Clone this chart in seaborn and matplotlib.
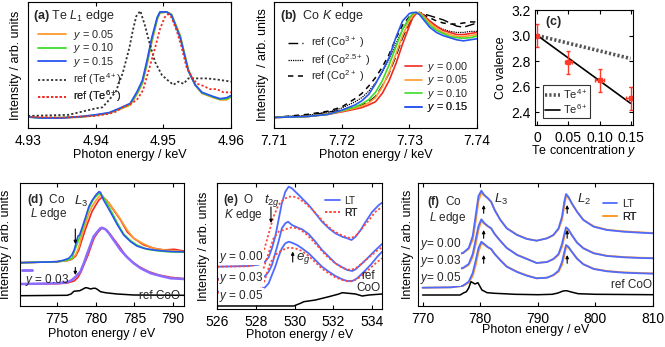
import numpy as np
import pandas as pd
import matplotlib
matplotlib.use("Agg")
import matplotlib.pyplot as plt
from matplotlib.lines import Line2D
import seaborn as sns

# ---------------- data ----------------
# (a) Te L1 edge, normalised
a_e = [4.930, 4.932, 4.935, 4.938, 4.940, 4.942, 4.9435, 4.9451, 4.9461, 4.9469, 4.9476, 4.9483,
       4.9491, 4.9495, 4.9505, 4.9512, 4.9525, 4.9537, 4.9547, 4.9557, 4.9574, 4.9584, 4.9594, 4.960]
a_y005 = [0.01, 0.005, 0.0, 0.01, 0.025, 0.045, 0.08, 0.12, 0.22, 0.32, 0.5, 0.71, 0.92, 0.98,
          0.99, 0.97, 0.77, 0.45, 0.31, 0.23, 0.19, 0.17, 0.17, 0.2]
a_y010 = [0.01, 0.0, 0.005, 0.012, 0.028, 0.048, 0.085, 0.13, 0.23, 0.33, 0.52, 0.73, 0.93, 0.985,
          0.99, 0.965, 0.76, 0.445, 0.31, 0.235, 0.195, 0.175, 0.18, 0.2]
a_y015 = [0.01, 0.0, 0.0, 0.015, 0.03, 0.05, 0.09, 0.136, 0.244, 0.35, 0.54, 0.75, 0.94, 0.99,
          0.99, 0.96, 0.75, 0.44, 0.31, 0.24, 0.2, 0.18, 0.19, 0.21]
a_te4_e = [4.930, 4.933, 4.936, 4.938, 4.940, 4.941, 4.942, 4.943, 4.944, 4.945, 4.9455, 4.946, 4.9466,
           4.9473, 4.948, 4.9488, 4.9498, 4.9507, 4.9515, 4.9522, 4.953, 4.9537, 4.955, 4.9564, 4.9579, 4.960]
a_te4 = [0.02, 0.025, 0.03, 0.06, 0.09, 0.1, 0.17, 0.25, 0.42, 0.66, 0.82, 0.95, 1.0, 0.86, 0.69,
         0.52, 0.4, 0.35, 0.31, 0.34, 0.32, 0.37, 0.37, 0.37, 0.36, 0.34]
a_te6_e = [4.930, 4.935, 4.940, 4.942, 4.943, 4.944, 4.9451, 4.9461, 4.947, 4.948, 4.9488, 4.9495, 4.9502,
           4.9507, 4.9512, 4.952, 4.9527, 4.9534, 4.9542, 4.955, 4.9559, 4.9569, 4.9579, 4.9589, 4.960]
a_te6 = [0.01, 0.005, 0.02, 0.04, 0.06, 0.1, 0.13, 0.17, 0.26, 0.48, 0.66, 0.83, 0.94, 0.97, 0.94,
         0.81, 0.66, 0.48, 0.38, 0.32, 0.3, 0.27, 0.27, 0.24, 0.24]

# (b) Co K edge, normalised
b_e = [7.710, 7.715, 7.718, 7.720, 7.722, 7.723, 7.724, 7.725, 7.726, 7.727, 7.728, 7.729, 7.730,
       7.7305, 7.731, 7.7315, 7.732, 7.733, 7.734, 7.735, 7.736, 7.737, 7.738, 7.739, 7.740]
b_y000 = [0, 0.01, 0.03, 0.054, 0.08, 0.095, 0.12, 0.15, 0.23, 0.35, 0.51, 0.70, 0.87, 0.95, 0.99,
          1.0, 0.98, 0.92, 0.87, 0.83, 0.81, 0.79, 0.79, 0.8, 0.81]
b_y005 = [0, 0.01, 0.035, 0.06, 0.09, 0.11, 0.14, 0.19, 0.29, 0.43, 0.6, 0.78, 0.92, 0.97, 1.0,
          1.0, 0.97, 0.9, 0.85, 0.81, 0.79, 0.77, 0.77, 0.78, 0.79]
b_y010 = [0, 0.01, 0.03, 0.065, 0.1, 0.13, 0.17, 0.24, 0.35, 0.5, 0.67, 0.84, 0.95, 0.99, 1.0,
          0.99, 0.96, 0.88, 0.83, 0.8, 0.77, 0.76, 0.755, 0.76, 0.775]
b_y015 = [0, 0.01, 0.03, 0.07, 0.12, 0.16, 0.22, 0.32, 0.44, 0.57, 0.76, 0.92, 0.99, 1.0, 1.0,
          0.98, 0.94, 0.86, 0.81, 0.78, 0.76, 0.74, 0.73, 0.74, 0.75]
b_co3 = [0, 0.02, 0.05, 0.07, 0.1, 0.12, 0.15, 0.2, 0.3, 0.42, 0.58, 0.76, 0.9, 0.96, 0.99, 1.0,
         0.99, 0.97, 0.95, 0.93, 0.9, 0.87, 0.86, 0.88, 0.9]
b_co25 = [0, 0.02, 0.05, 0.09, 0.15, 0.19, 0.25, 0.33, 0.43, 0.55, 0.7, 0.84, 0.94, 0.98, 1.0,
          0.99, 0.97, 0.92, 0.87, 0.84, 0.82, 0.81, 0.81, 0.82, 0.82]
b_co2 = [0, 0.03, 0.06, 0.1, 0.18, 0.23, 0.3, 0.38, 0.48, 0.6, 0.75, 0.88, 0.96, 0.99, 1.0, 0.99,
         0.98, 0.95, 0.92, 0.9, 0.89, 0.89, 0.9, 0.91, 0.91]

# (c) Co valence
c_y = [0.0, 0.05, 0.10, 0.15]
c_val = [3.0, 2.79, 2.65, 2.51]
c_verr = [0.09, 0.09, 0.09, 0.09]
c_herr = [0.0, 0.005, 0.008, 0.008]
c_line_y = [0.0, 0.15]
c_te4 = [3.0, 2.82]
c_te6 = [3.0, 2.47]

# (d) Co L edge (stacked, arb. units)
d_blue_e = [770.3, 775.0, 775.9, 776.5, 776.9, 777.2, 777.7, 777.9, 778.2, 778.7, 779.1, 779.5, 780.0,
            780.4, 780.6, 781.0, 781.5, 782.1, 782.8, 783.6, 784.5, 785.3, 786.2, 787.5, 788.8, 790.1, 791.4]
d_blue = [43.3, 44.3, 46, 47.7, 51, 56, 70, 71, 77.7, 89.3, 99.3, 105.3, 111, 114.3, 113.7, 106, 99.3,
          91, 81, 71, 64.3, 60, 57.7, 56, 55, 54.3, 54.3]
d_red_e = [770.3, 775.0, 776.3, 776.9, 777.4, 777.8, 778.2, 778.7, 779.1, 779.5, 780.0, 780.4, 780.8,
           781.25, 781.7, 782.3, 783.2, 784.05, 784.9, 786.2, 787.5, 788.8, 790.1, 791.4]
d_red = [43.3, 44.3, 45.3, 46.7, 50, 56, 66, 77.7, 86, 94.3, 101, 106, 108.7, 106.7, 102.7, 96, 86,
         74.3, 67.7, 61, 57.7, 56, 56.7, 55]
d_orange_e = [770.3, 775.0, 776.3, 776.9, 777.4, 777.8, 778.2, 778.7, 779.1, 779.5, 780.0, 780.4, 780.7,
              781.1, 781.7, 782.3, 783.2, 784.05, 784.9, 786.2, 787.5, 788.8, 790.1, 791.4]
d_orange = [43.3, 44.3, 45.5, 47, 51.3, 58.7, 71, 82.7, 92.7, 99.3, 105.3, 109.3, 111, 107.7, 102.7,
            96.7, 86.7, 76, 67.7, 62, 57.7, 56, 55.3, 54.3]
d_green_e = [770.3, 775.0, 776.3, 776.9, 777.2, 777.7, 778.0, 778.45, 778.9, 779.3, 779.7, 780.2, 780.5,
             780.95, 781.5, 782.1, 782.8, 783.6, 784.5, 785.3, 786.6, 787.9, 789.2, 791.4]
d_green = [43.3, 44.3, 45.8, 47.5, 54.3, 64.3, 71, 81, 93.3, 101, 106.7, 111, 112.7, 109.3, 102, 93.3,
           82.7, 72, 65.3, 61, 56.7, 55.3, 54.3, 53.7]
d_y003_e = [770.3, 775.0, 776.3, 776.9, 777.4, 777.7, 778.0, 778.45, 778.9, 779.3, 779.7, 780.2, 780.6,
            780.8, 781.25, 781.7, 782.3, 783.2, 784.05, 784.9, 785.8, 787.1, 788.4, 789.65, 791.4]
d_y003 = [22, 22.7, 23.7, 26, 29.3, 32, 34.3, 42.7, 52.7, 61, 69.3, 74.3, 77.7, 78.3, 76.7, 72.7, 66,
          56, 48.7, 42.7, 37.7, 32.7, 30, 27.7, 27]
d_y000_e = [770.3, 775.0, 776.3, 777.2, 777.7, 778.1, 778.5, 779.0, 779.4, 779.8, 780.3, 780.7, 781.0,
            781.5, 782.1, 783.0, 783.8, 784.7, 785.6, 786.85, 788.15, 789.65, 791.4]
d_y000 = [22, 22.3, 23, 25, 28.7, 34.3, 42, 51, 60, 68.3, 74, 77.3, 77.7, 75.3, 69.3, 60, 51, 44.3,
          39.3, 34.3, 31, 28.7, 27.3]
d_coo_e = [770.3, 776.3, 776.8, 777.16, 777.5, 777.93, 778.36, 778.66, 778.97, 779.3, 779.66, 779.96,
           780.26, 780.6, 781.25, 781.9, 782.76, 784.9, 791.4]
d_coo = [10.3, 10.7, 12, 14.7, 15, 15.3, 17, 18.3, 18, 17, 17.7, 17.7, 16.3, 14.3, 13.3, 12.7, 12, 11, 10.7]

# (e) O K edge (stacked, arb. units)
e_lt0_e = [526.0, 527.6, 528.14, 528.48, 528.66, 528.83, 529.0, 529.17, 529.34, 529.52, 529.69, 529.86,
           530.12, 530.38, 530.72, 531.07, 531.41, 531.76, 532.1, 532.45, 532.71, 532.93, 533.14, 533.4,
           533.66, 534.0, 534.34, 534.5]
e_lt0 = [39.3, 40, 41.3, 44.3, 48.7, 57.7, 69.3, 86, 102.7, 114.3, 119.3, 117.7, 112.7, 107.7, 101, 92.7,
         84.3, 77.7, 72.7, 69.3, 67.7, 66, 69.3, 76, 84.3, 94.3, 101, 103.3]
e_rt0_e = [526.0, 527.6, 527.97, 528.22, 528.4, 528.57, 528.74, 528.91, 529.17, 529.43, 529.69, 529.95,
           530.2, 530.55, 530.9, 531.24, 531.59, 531.93, 532.28, 532.62, 532.88, 533.14, 533.48, 533.83,
           534.17, 534.5]
e_rt0 = [39.3, 39.7, 41, 46, 54.3, 66, 77.7, 89.3, 101, 106.7, 109.3, 109.3, 107.7, 102.7, 96.7, 89.3,
         82, 76, 72, 69.3, 67.7, 70, 77.7, 86, 94.3, 99.3]
e_lt3_e = [526.0, 527.6, 528.14, 528.48, 528.66, 528.83, 529.0, 529.17, 529.34, 529.52, 529.66, 529.86,
           530.12, 530.38, 530.72, 531.07, 531.41, 531.76, 532.1, 532.45, 532.71, 532.97, 533.14, 533.48,
           533.83, 534.17, 534.5]
e_lt3 = [27, 27, 27.7, 30, 34.3, 41, 52.7, 64.3, 77.7, 82.7, 84.3, 81, 78.7, 76.7, 72, 64.3, 56, 49.3,
         42.7, 38.7, 36, 35, 36.7, 42.7, 49.3, 56, 62]
e_rt3_e = [526.0, 527.6, 527.97, 528.22, 528.4, 528.57, 528.74, 528.91, 529.17, 529.52, 529.86, 530.2,
           530.55, 530.9, 531.24, 531.59, 531.93, 532.28, 532.62, 532.88, 533.14, 533.48, 533.83, 534.17, 534.5]
e_rt3 = [26, 26.3, 27.7, 30, 37.7, 47.7, 57.7, 67.7, 74.3, 76.7, 78.7, 77.3, 72.7, 66, 58.7, 51, 45.3,
         40, 37, 36, 37.7, 42.7, 48.7, 54.3, 58.7]
e_lt5_e = [526.0, 527.6, 528.14, 528.48, 528.66, 528.83, 529.0, 529.17, 529.34, 529.52, 529.69, 529.86,
           530.12, 530.38, 530.72, 531.07, 531.41, 531.76, 532.1, 532.45, 532.71, 532.97, 533.22, 533.57,
           533.91, 534.26, 534.5]
e_lt5 = [14.3, 15.3, 16, 18.7, 22.7, 31, 39.3, 49.3, 57.7, 62.7, 64.3, 63.3, 61, 57.7, 52.7, 46, 39.3,
         34.3, 30, 26.7, 25, 25, 27.7, 34.3, 41, 49.3, 54.3]
e_rt5_e = [526.0, 527.6, 528.05, 528.22, 528.4, 528.57, 528.74, 529.0, 529.34, 529.69, 530.03, 530.38,
           530.72, 531.07, 531.41, 531.76, 532.1, 532.45, 532.79, 533.05, 533.4, 533.83, 534.17, 534.5]
e_rt5 = [13.3, 13.7, 14.3, 16.7, 22.7, 32.7, 42.7, 51, 56, 58.3, 57.7, 55, 50, 43.7, 37.3, 32.7, 28.7,
         26, 24.3, 25.3, 29.3, 36.7, 42.7, 47.7]
e_coo_e = [526.0, 529.95, 530.3, 530.47, 531.07, 531.76, 532.28, 532.45, 533.14, 533.48, 533.83, 534.5]
e_coo = [0, 0, 2.7, 4.3, 6, 9.3, 12, 13.3, 12, 10, 11, 12]

# (f) Co L2,3 edge (stacked, arb. units)
f_e = [770, 775, 777, 778, 778.7, 779.2, 779.7, 780.2, 780.7, 781.3, 781.9, 782.5, 783.5, 784.6, 786.4,
       788.1, 789.8, 791.6, 792.7, 793.6, 794.2, 794.6, 794.9, 795.3, 795.9, 796.8, 797.9, 799.7, 802,
       804.9, 807.8, 810]
f_lt0 = [51, 51.3, 53, 58, 70, 90, 110, 115.3, 111, 108, 104.3, 96, 86, 77.7, 71, 67, 65.3, 67.7, 71,
         77.7, 89.3, 104.3, 112, 109.3, 102.7, 94.3, 86, 79.3, 76, 74.3, 73.3, 72.7]
f_rt0 = [51, 51.3, 52.7, 57, 66, 84, 105, 113, 110.5, 107.7, 104, 96.3, 86.3, 78, 71.3, 67.3, 65.3, 67.7,
         70.7, 76.7, 86, 100, 109.5, 108.5, 102.5, 94.5, 86.3, 79.7, 76.3, 74.7, 73.7, 73]
f_lt3 = [36, 36.3, 38, 42, 52, 66, 80, 86.7, 83, 80, 77.7, 72, 65, 58, 51, 47, 43, 44, 47, 52, 62, 72,
         78.7, 76.7, 71, 63.3, 57.7, 52.7, 50, 48.7, 48, 47.7]
f_rt3 = [36, 36.3, 37.7, 41, 49, 61, 76, 85, 82.3, 79.7, 77.5, 72.3, 65.3, 58.3, 51.3, 47.3, 43, 44,
         46.7, 51, 59, 69, 76.5, 76, 71, 63.7, 58, 53, 50.3, 49, 48.3, 48]
f_lt5 = [18.3, 18.7, 20.3, 24.3, 33, 45, 58, 64.3, 62, 59, 57, 52, 45.7, 39.3, 34, 30.3, 27.7, 28.3, 31,
         35.3, 44, 54, 61, 59.3, 54.3, 47.3, 41.7, 37, 34.7, 33.3, 32.7, 32.3]
f_rt5 = [18.3, 18.7, 20, 23.3, 30, 40.5, 54, 62.5, 61.3, 58.7, 56.7, 52.3, 46, 39.7, 34.3, 30.7, 27.7,
         28.3, 30.7, 34.3, 41, 50.5, 58.7, 58.5, 54.3, 47.7, 42, 37.3, 35, 33.7, 33, 32.7]
f_coo_e = [770, 776.5, 777.1, 777.6, 778.0, 778.4, 778.8, 779.1, 779.6, 780.3, 781.2, 782.5, 784, 786,
           790, 792.5, 793.5, 794.4, 795, 795.8, 797, 800, 810]
f_coo = [11, 11, 13, 14.3, 18, 24.3, 23, 22, 23.3, 16, 13.3, 12.7, 12.3, 11.7, 11.3, 11.7, 13, 15, 15.3,
         14, 12.3, 11.7, 11.3]

# ---------------- style ----------------
sns.set_theme(style="ticks", rc={
    "axes.edgecolor": "black", "axes.linewidth": 0.8,
    "xtick.direction": "in", "ytick.direction": "in",
    "xtick.major.size": 3, "ytick.major.size": 3,
    "xtick.major.width": 0.8, "ytick.major.width": 0.8,
    "xtick.major.pad": 4, "ytick.major.pad": 3,
    "xtick.color": "black", "ytick.color": "black",
    "xtick.labelsize": 10, "ytick.labelsize": 10,
    "axes.labelsize": 9, "axes.labelcolor": "black",
})
plt.rcParams["font.family"] = ["Liberation Sans", "DejaVu Sans"]
plt.rcParams["mathtext.fontset"] = "custom"
plt.rcParams["mathtext.rm"] = "Liberation Sans"
plt.rcParams["mathtext.it"] = "Liberation Sans:italic"
plt.rcParams["mathtext.bf"] = "Liberation Sans:bold"

ORANGE = "#ff9a2e"
GREEN = "#3ddc2a"
BLUE = "#2a55f0"
RED = "#f02a22"
PURPLE = "#8c6cff"
LTBLUE = "#4f6bff"
DOT = (0, (1.2, 1.2))
ARROW = dict(arrowstyle="-|>", color="black", lw=0.8, mutation_scale=4.5,
             shrinkA=0, shrinkB=0)

fig = plt.figure(figsize=(6.65, 3.47), dpi=100)
W, H = 665.0, 347.0
fs_leg = 8.5
fs_row = 7.8


def axes_px(l, t, r, b):
    return fig.add_axes([l / W, 1 - b / H, (r - l) / W, (b - t) / H])


def curve(ax, x, y, **kw):
    sns.lineplot(x=x, y=y, ax=ax, sort=False, estimator=None, legend=False, **kw)
    return ax.lines[-1]


def entry(ax, handle, label, x, y, fs=fs_row, hl=2.6, pad=0.6):
    lg = ax.legend([handle], [label], loc="center left", bbox_to_anchor=(x, y), frameon=False,
                   fontsize=fs, handlelength=hl, handletextpad=pad, borderpad=0, borderaxespad=0)
    ax.add_artist(lg)


def spectrum_axes(ax):
    ax.tick_params(left=False, labelleft=False, top=True, right=False)
    ax.set_ylabel("Intensity / arb. units")


# ---------------- (a) ----------------
ax = axes_px(28, 2, 231, 128)
h005 = curve(ax, a_e, a_y005, color=ORANGE, lw=1.3)
h010 = curve(ax, a_e, a_y010, color=GREEN, lw=1.3)
h015 = curve(ax, a_e, a_y015, color=BLUE, lw=1.3)
hte4 = curve(ax, a_te4_e, a_te4, color="#333333", lw=1.3, linestyle=DOT)
hte6 = curve(ax, a_te6_e, a_te6, color=RED, lw=1.3, linestyle=DOT)
ax.set_xlim(4.93, 4.96)
ax.set_ylim(-0.093, 1.083)
ax.set_xticks([4.93, 4.94, 4.95, 4.96])
ax.set_xticklabels(["4.93", "4.94", "4.95", "4.96"])
spectrum_axes(ax)
ax.set_xlabel("Photon energy / keV")
ax.yaxis.set_label_coords(-0.031, 0.5)
ax.xaxis.set_label_coords(0.5, -0.165)
ax.text(0.025, 0.885, r"$\mathbf{(a)}$ Te $L_{1}$ edge", transform=ax.transAxes, fontsize=9, va="center")
for h, lab, yy in zip([h005, h010, h015, hte4, hte6],
                      [r"$y$ = 0.05", r"$y$ = 0.10", r"$y$ = 0.15", r"ref (Te$^{4+}$)", r"ref (Te$^{6+}$)"],
                      [0.738, 0.631, 0.524, 0.385, 0.25]):
    entry(ax, h, lab, 0.049, yy, hl=2.6)

# ---------------- (b) ----------------
ax = axes_px(274, 2, 477, 128)
r3 = curve(ax, b_e, b_co3, color="black", lw=1.0, linestyle=(0, (7, 3)))
r25 = curve(ax, b_e, b_co25, color="black", lw=0.9, linestyle=(0, (1, 0.8)))
r2 = curve(ax, b_e, b_co2, color="black", lw=1.1, linestyle=(0, (3.5, 3)))
s0 = curve(ax, b_e, b_y000, color=RED, lw=1.2)
s5 = curve(ax, b_e, b_y005, color=ORANGE, lw=1.2)
s10 = curve(ax, b_e, b_y010, color=GREEN, lw=1.2)
s15 = curve(ax, b_e, b_y015, color=BLUE, lw=1.2)
ax.set_xlim(7.71, 7.74)
ax.set_ylim(-0.10, 1.10)
ax.set_xticks([7.71, 7.72, 7.73, 7.74])
ax.set_xticklabels(["7.71", "7.72", "7.73", "7.74"])
spectrum_axes(ax)
ax.set_ylabel("Intensity  / arb. units")
ax.set_xlabel("Photon energy / keV")
ax.yaxis.set_label_coords(-0.025, 0.5)
ax.xaxis.set_label_coords(0.5, -0.165)
ax.text(0.03, 0.885, r"$\mathbf{(b)}$  Co $K$ edge", transform=ax.transAxes, fontsize=9, va="center")
for h, lab, yy in zip([r3, r25, r2],
                      [r"ref (Co$^{3+}$ )", r"ref (Co$^{2.5+}$ )", r"ref (Co$^{2+}$ )"],
                      [0.678, 0.54, 0.41]):
    entry(ax, h, lab, 0.069, yy, fs=7.9, hl=1.35, pad=0.7)
for h, lab, yy in zip([s0, s5, s10, s15],
                      [r"$y$ = 0.00", r"$y$ = 0.05", r"$y$ = 0.10", r"$y$ = 0.15"],
                      [0.484, 0.377, 0.270, 0.163]):
    entry(ax, h, lab, 0.645, yy, hl=1.55, pad=0.45)

# ---------------- (c) ----------------
ax = axes_px(535, 10, 633, 125)
l4 = curve(ax, c_line_y, c_te4, color="#555555", lw=2.6, linestyle=(0, (0.6, 0.6)))
l6 = curve(ax, c_line_y, c_te6, color="black", lw=1.2)
ax.errorbar(c_y, c_val, yerr=c_verr, xerr=c_herr, fmt="s", ms=2.5, color="#ff3a2a",
            ecolor="#ff3a2a", elinewidth=1.0, capsize=1.5, capthick=1.0)
ax.set_xlim(-0.004, 0.154)
ax.set_ylim(2.3, 3.2)
ax.set_xticks([0, 0.05, 0.10, 0.15])
ax.set_xticklabels(["0", "0.05", "0.10", "0.15"])
ax.set_yticks([2.4, 2.6, 2.8, 3.0, 3.2])
ax.set_yticklabels(["2.4", "2.6", "2.8", "3.0", "3.2"])
ax.tick_params(top=True, right=True)
ax.set_xlabel(r"Te concentration $y$")
ax.set_ylabel("Co valence")
ax.yaxis.set_label_coords(-0.29, 0.5)
ax.xaxis.set_label_coords(0.5, -0.16)
ax.text(0.1, 0.9, r"$\mathbf{(c)}$", transform=ax.transAxes, fontsize=9, va="center")
lg = ax.legend([l4, l6], [r"Te$^{4+}$", r"Te$^{6+}$"], loc="upper left", bbox_to_anchor=(0.08, 0.35),
               frameon=True, fancybox=False, edgecolor="black", fontsize=8, handlelength=1.3,
               handletextpad=0.3, labelspacing=0.1, borderpad=0.2, borderaxespad=0)
lg.get_frame().set_linewidth(0.8)

# ---------------- (d) ----------------
ax = axes_px(20, 183, 184, 306)
curve(ax, d_red_e, d_red, color=RED, lw=1.2)
curve(ax, d_orange_e, d_orange, color=ORANGE, lw=1.2)
curve(ax, d_green_e, d_green, color=GREEN, lw=1.2)
curve(ax, d_blue_e, d_blue, color=BLUE, lw=1.2)
curve(ax, d_y000_e, d_y000, color=RED, lw=1.2)
hp = curve(ax, d_y003_e, d_y003, color=PURPLE, lw=1.8)
curve(ax, d_coo_e, d_coo, color="black", lw=1.1)
ax.set_xlim(770.2, 791.4)
ax.set_ylim(0, 123)
ax.set_xticks([775, 780, 785, 790])
spectrum_axes(ax)
ax.set_xlabel("Photon energy / eV")
ax.yaxis.set_label_coords(-0.05, 0.5)
ax.xaxis.set_label_coords(0.5, -0.175)
ax.text(0.043, 0.865, r"$\mathbf{(d)}$  Co", transform=ax.transAxes, fontsize=8.5, va="center")
ax.text(0.06, 0.745, r"$L$ edge", transform=ax.transAxes, fontsize=8.5, va="center")
ax.text(0.33, 0.85, r"$L_3$", transform=ax.transAxes, fontsize=9.5, va="center")
ax.annotate("", xy=(777.35, 62), xytext=(777.35, 77), arrowprops=ARROW)
ax.annotate("", xy=(777.35, 31), xytext=(777.35, 38.5), arrowprops=ARROW)
entry(ax, hp, "", 0.01, 0.29, hl=1.0, pad=0)
ax.text(0.03, 0.215, r"$y$ = 0.03", transform=ax.transAxes, fontsize=fs_leg, va="center")
ax.text(0.975, 0.083, "ref CoO", transform=ax.transAxes, fontsize=fs_leg, va="center", ha="right")

# ---------------- (e) ----------------
ax = axes_px(217, 183, 382, 309)
hlt = curve(ax, e_lt0_e, e_lt0, color=LTBLUE, lw=1.3)
hrt = curve(ax, e_rt0_e, e_rt0, color="#ff4a3a", lw=1.3, linestyle=DOT)
curve(ax, e_lt3_e, e_lt3, color=LTBLUE, lw=1.3)
curve(ax, e_rt3_e, e_rt3, color="#ff4a3a", lw=1.3, linestyle=DOT)
curve(ax, e_lt5_e, e_lt5, color=LTBLUE, lw=1.3)
curve(ax, e_rt5_e, e_rt5, color="#ff4a3a", lw=1.3, linestyle=DOT)
curve(ax, e_coo_e, e_coo, color="black", lw=1.1)
ax.set_xlim(526, 534.5)
ax.set_ylim(-3, 123)
ax.set_xticks([526, 528, 530, 532, 534])
spectrum_axes(ax)
ax.set_xlabel("Photon energy / eV")
ax.yaxis.set_label_coords(-0.042, 0.5)
ax.xaxis.set_label_coords(0.5, -0.16)
ax.text(0.036, 0.865, r"$\mathbf{(e)}$  O", transform=ax.transAxes, fontsize=8.5, va="center")
ax.text(0.045, 0.745, r"$K$ edge", transform=ax.transAxes, fontsize=8.5, va="center")
ax.text(0.285, 0.86, r"$t_{2g}$", transform=ax.transAxes, fontsize=9.5, va="center")
ax.text(0.48, 0.4, r"$e_g$", transform=ax.transAxes, fontsize=9.5, va="center")
ax.annotate("", xy=(528.78, 83), xytext=(528.78, 99), arrowprops=ARROW)
ax.annotate("", xy=(529.9, 54.5), xytext=(529.9, 44), arrowprops=ARROW)
entry(ax, hlt, "LT", 0.655, 0.858, fs=7.3, hl=1.45, pad=0.45)
entry(ax, hrt, "RT", 0.655, 0.763, fs=7.3, hl=1.45, pad=0.45)
for lab, yy in zip([r"$y$ = 0.00", r"$y$ = 0.03", r"$y$ = 0.05"], [0.413, 0.246, 0.103]):
    ax.text(0.015, yy, lab, transform=ax.transAxes, fontsize=fs_leg, va="center",
            bbox=dict(facecolor="white", edgecolor="none", pad=0.3))
ax.text(0.915, 0.26, "ref", transform=ax.transAxes, fontsize=fs_leg, va="center", ha="center")
ax.text(0.915, 0.165, "CoO", transform=ax.transAxes, fontsize=fs_leg, va="center", ha="center")

# ---------------- (f) ----------------
ax = axes_px(418, 183, 653, 306)
curve(ax, f_e, f_rt0, color=ORANGE, lw=1.3)
hlt = curve(ax, f_e, f_lt0, color=LTBLUE, lw=1.3)
curve(ax, f_e, f_rt3, color=ORANGE, lw=1.3)
curve(ax, f_e, f_lt3, color=LTBLUE, lw=1.3)
curve(ax, f_e, f_rt5, color=ORANGE, lw=1.3)
curve(ax, f_e, f_lt5, color=LTBLUE, lw=1.3)
curve(ax, f_coo_e, f_coo, color="black", lw=1.1)
hrt = Line2D([], [], color=ORANGE, lw=1.3)
ax.set_xlim(769.2, 810)
ax.set_ylim(0, 123)
ax.set_xticks([770, 780, 790, 800, 810])
spectrum_axes(ax)
ax.set_xlabel("Photon energy / eV")
ax.yaxis.set_label_coords(-0.017, 0.5)
ax.xaxis.set_label_coords(0.5, -0.15)
ax.text(0.038, 0.845, r"$\mathbf{(f)}$  Co", transform=ax.transAxes, fontsize=8.5, va="center")
ax.text(0.045, 0.715, r"$L$ edge", transform=ax.transAxes, fontsize=8.5, va="center")
ax.text(0.325, 0.87, r"$L_3$", transform=ax.transAxes, fontsize=9.5, va="center")
ax.text(0.675, 0.87, r"$L_2$", transform=ax.transAxes, fontsize=9.5, va="center")
for x0 in [780.6, 795.1]:
    for ylo, yhi in [(92.7, 101), (67.7, 76), (42.7, 51)]:
        ax.annotate("", xy=(x0, yhi), xytext=(x0, ylo), arrowprops=ARROW)
entry(ax, hlt, "LT", 0.787, 0.829, fs=8, hl=1.3, pad=0.45)
entry(ax, hrt, "RT", 0.787, 0.724, fs=8, hl=1.3, pad=0.45)
for lab, yy in zip([r"$y$= 0.00", r"$y$= 0.03", r"$y$= 0.05"], [0.5, 0.365, 0.228]):
    ax.text(0.008, yy, lab, transform=ax.transAxes, fontsize=fs_leg, va="center",
            bbox=dict(facecolor="white", edgecolor="none", pad=0.3))
ax.text(0.995, 0.172, "ref CoO", transform=ax.transAxes, fontsize=fs_leg, va="center", ha="right")

fig.savefig("out.png", dpi=100)
